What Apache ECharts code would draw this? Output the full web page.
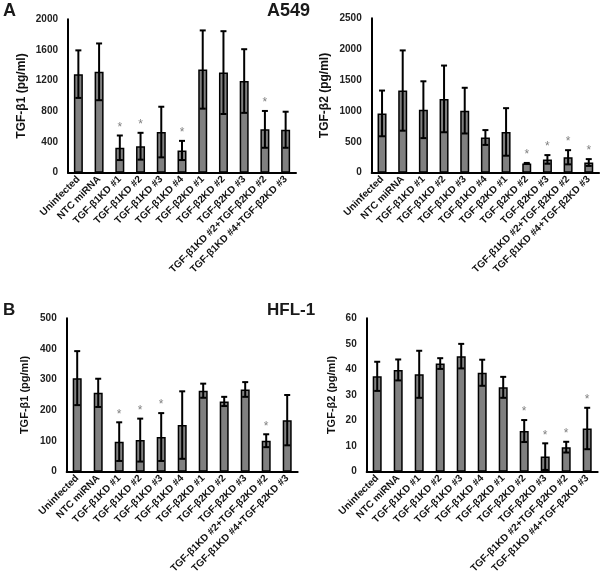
<!DOCTYPE html>
<html>
<head>
<meta charset="utf-8">
<script src="https://cdn.jsdelivr.net/npm/echarts@6/dist/echarts.min.js"></script>
<style>html,body{margin:0;padding:0;background:#fff}#c{width:600px;height:577px}</style>
</head>
<body>
<div id="c"></div>
<script>
const categories = ['Uninfected','NTC miRNA','TGF-β1KD #1','TGF-β1KD #2','TGF-β1KD #3','TGF-β1KD #4','TGF-β2KD #1','TGF-β2KD #2','TGF-β2KD #3','TGF-β1KD #2+TGF-β2KD #2','TGF-β1KD #4+TGF-β2KD #3'];

// A549 TGF-β1
const a549B1 = [1285, 1315, 325, 345, 530, 290, 1345, 1305, 1195, 565, 560];
const a549B1Err = [310, 370, 160, 175, 330, 125, 510, 540, 415, 240, 235];
const a549B1Sig = [0,0,1,1,0,1,0,0,0,1,0];
const a549B1Ticks = [0, 400, 800, 1200, 1600, 2000];

// A549 TGF-β2
const a549B2 = [960, 1330, 1020, 1195, 1005, 570, 660, 150, 215, 250, 165];
const a549B2Err = [370, 650, 460, 540, 370, 120, 385, 8, 70, 115, 55];
const a549B2Sig = [0,0,0,0,0,0,0,1,1,1,1];
const a549B2Ticks = [0, 500, 1000, 1500, 2000, 2500];

// HFL-1 TGF-β1
const hflB1 = [305, 257, 98, 103, 113, 152, 264, 229, 268, 101, 168];
const hflB1Err = [88, 46, 63, 70, 78, 110, 23, 15, 24, 21, 82];
const hflB1Sig = [0,0,1,1,1,0,0,0,0,1,0];
const hflB1Ticks = [0, 100, 200, 300, 400, 500];

// HFL-1 TGF-β2
const hflB2 = [37.3, 39.8, 38.1, 42.3, 45.2, 38.7, 33.0, 15.9, 5.9, 9.6, 16.9];
const hflB2Err = [5.7, 4.1, 9.2, 2.1, 4.8, 5.1, 4.1, 4.3, 5.2, 2.1, 8.1];
const hflB2Sig = [0,0,0,0,0,0,0,1,1,1,1];
const hflB2Ticks = [0, 10, 20, 30, 40, 50, 60];

const panels = [
  {vals: a549B1, err: a549B1Err, sig: a549B1Sig, ticks: a549B1Ticks, name: 'TGF-β1 (pg/ml)', grid: {left: 68, top: 19.3, width: 228, height: 153.4}, nameGap: 40, nameSize: 12},
  {vals: a549B2, err: a549B2Err, sig: a549B2Sig, ticks: a549B2Ticks, name: 'TGF-β2 (pg/ml)', grid: {left: 371.7, top: 18.3, width: 227.4, height: 154.4}, nameGap: 41, nameSize: 12},
  {vals: hflB1, err: hflB1Err, sig: hflB1Sig, ticks: hflB1Ticks, name: 'TGF-β1 (pg/ml)', grid: {left: 66.7, top: 318.3, width: 231, height: 153.4}, nameGap: 36, nameSize: 11},
  {vals: hflB2, err: hflB2Err, sig: hflB2Sig, ticks: hflB2Ticks, name: 'TGF-β2 (pg/ml)', grid: {left: 366.7, top: 318.3, width: 231, height: 153.4}, nameGap: 29, nameSize: 11}
];

const FONT = '"Liberation Sans", Arial, sans-serif';
const grids = [], xAxes = [], yAxes = [], series = [];
panels.forEach((p, i) => {
  grids.push(Object.assign({containLabel: false, outerBoundsMode: 'none'}, p.grid));
  xAxes.push({
    type: 'category', gridIndex: i, data: categories,
    axisLine: {lineStyle: {color: '#000', width: 2}},
    axisTick: {show: false},
    axisLabel: {interval: 0, rotate: 45, fontSize: 10, fontWeight: 'bold', color: '#111', fontFamily: FONT, margin: 5}
  });
  const step = p.ticks[1] - p.ticks[0];
  yAxes.push({
    type: 'value', gridIndex: i, min: p.ticks[0], max: p.ticks[p.ticks.length - 1], interval: step,
    name: p.name, nameLocation: 'middle', nameGap: p.nameGap,
    nameTextStyle: {fontSize: p.nameSize, fontWeight: 'bold', color: '#111', fontFamily: FONT},
    axisLine: {show: true, lineStyle: {color: '#000', width: 2}},
    axisTick: {show: false},
    splitLine: {show: false},
    axisLabel: {fontSize: 10, fontWeight: 'bold', color: '#222', fontFamily: FONT, margin: 10, formatter: v => String(v)}
  });
  series.push({
    type: 'bar', xAxisIndex: i, yAxisIndex: i, data: p.vals, barWidth: 9,
    itemStyle: {color: '#808080', borderColor: '#000', borderWidth: 1.5},
    silent: true, animation: false
  });
  series.push({
    type: 'custom', xAxisIndex: i, yAxisIndex: i, z: 5, animation: false, silent: true,
    data: p.vals.map((v, k) => [k, v, p.err[k], p.sig[k]]),
    renderItem: function (params, api) {
      const x = api.value(0), v = api.value(1), e = api.value(2), s = api.value(3);
      const hi = api.coord([x, v + e]);
      const lo = api.coord([x, Math.max(v - e, 0)]);
      const cw = 3;
      const st = {stroke: '#000', lineWidth: 2};
      const children = [
        {type: 'line', shape: {x1: hi[0], y1: hi[1], x2: lo[0], y2: lo[1]}, style: st},
        {type: 'line', shape: {x1: hi[0] - cw, y1: hi[1], x2: hi[0] + cw, y2: hi[1]}, style: st},
        {type: 'line', shape: {x1: lo[0] - cw, y1: lo[1], x2: lo[0] + cw, y2: lo[1]}, style: st}
      ];
      if (s) {
        children.push({type: 'text', style: {text: '*', x: hi[0], y: hi[1] - 2, textAlign: 'center', textVerticalAlign: 'bottom', fill: '#808080', font: '12px ' + FONT}});
      }
      return {type: 'group', children: children};
    }
  });
});

const chart = echarts.init(document.getElementById('c'), null, {renderer: 'canvas'});
chart.setOption({
  backgroundColor: '#fff',
  animation: false,
  grid: grids, xAxis: xAxes, yAxis: yAxes, series: series,
  graphic: [
    {type: 'text', left: 3, top: 2, style: {text: 'A', font: 'bold 18px ' + FONT, fill: '#1a1a1a'}},
    {type: 'text', left: 267, top: 2, style: {text: 'A549', font: 'bold 18px ' + FONT, fill: '#1a1a1a'}},
    {type: 'text', left: 3, top: 302, style: {text: 'B', font: 'bold 17px ' + FONT, fill: '#1a1a1a'}},
    {type: 'text', left: 267, top: 302, style: {text: 'HFL-1', font: 'bold 17px ' + FONT, fill: '#1a1a1a'}}
  ]
});
</script>
</body>
</html>
